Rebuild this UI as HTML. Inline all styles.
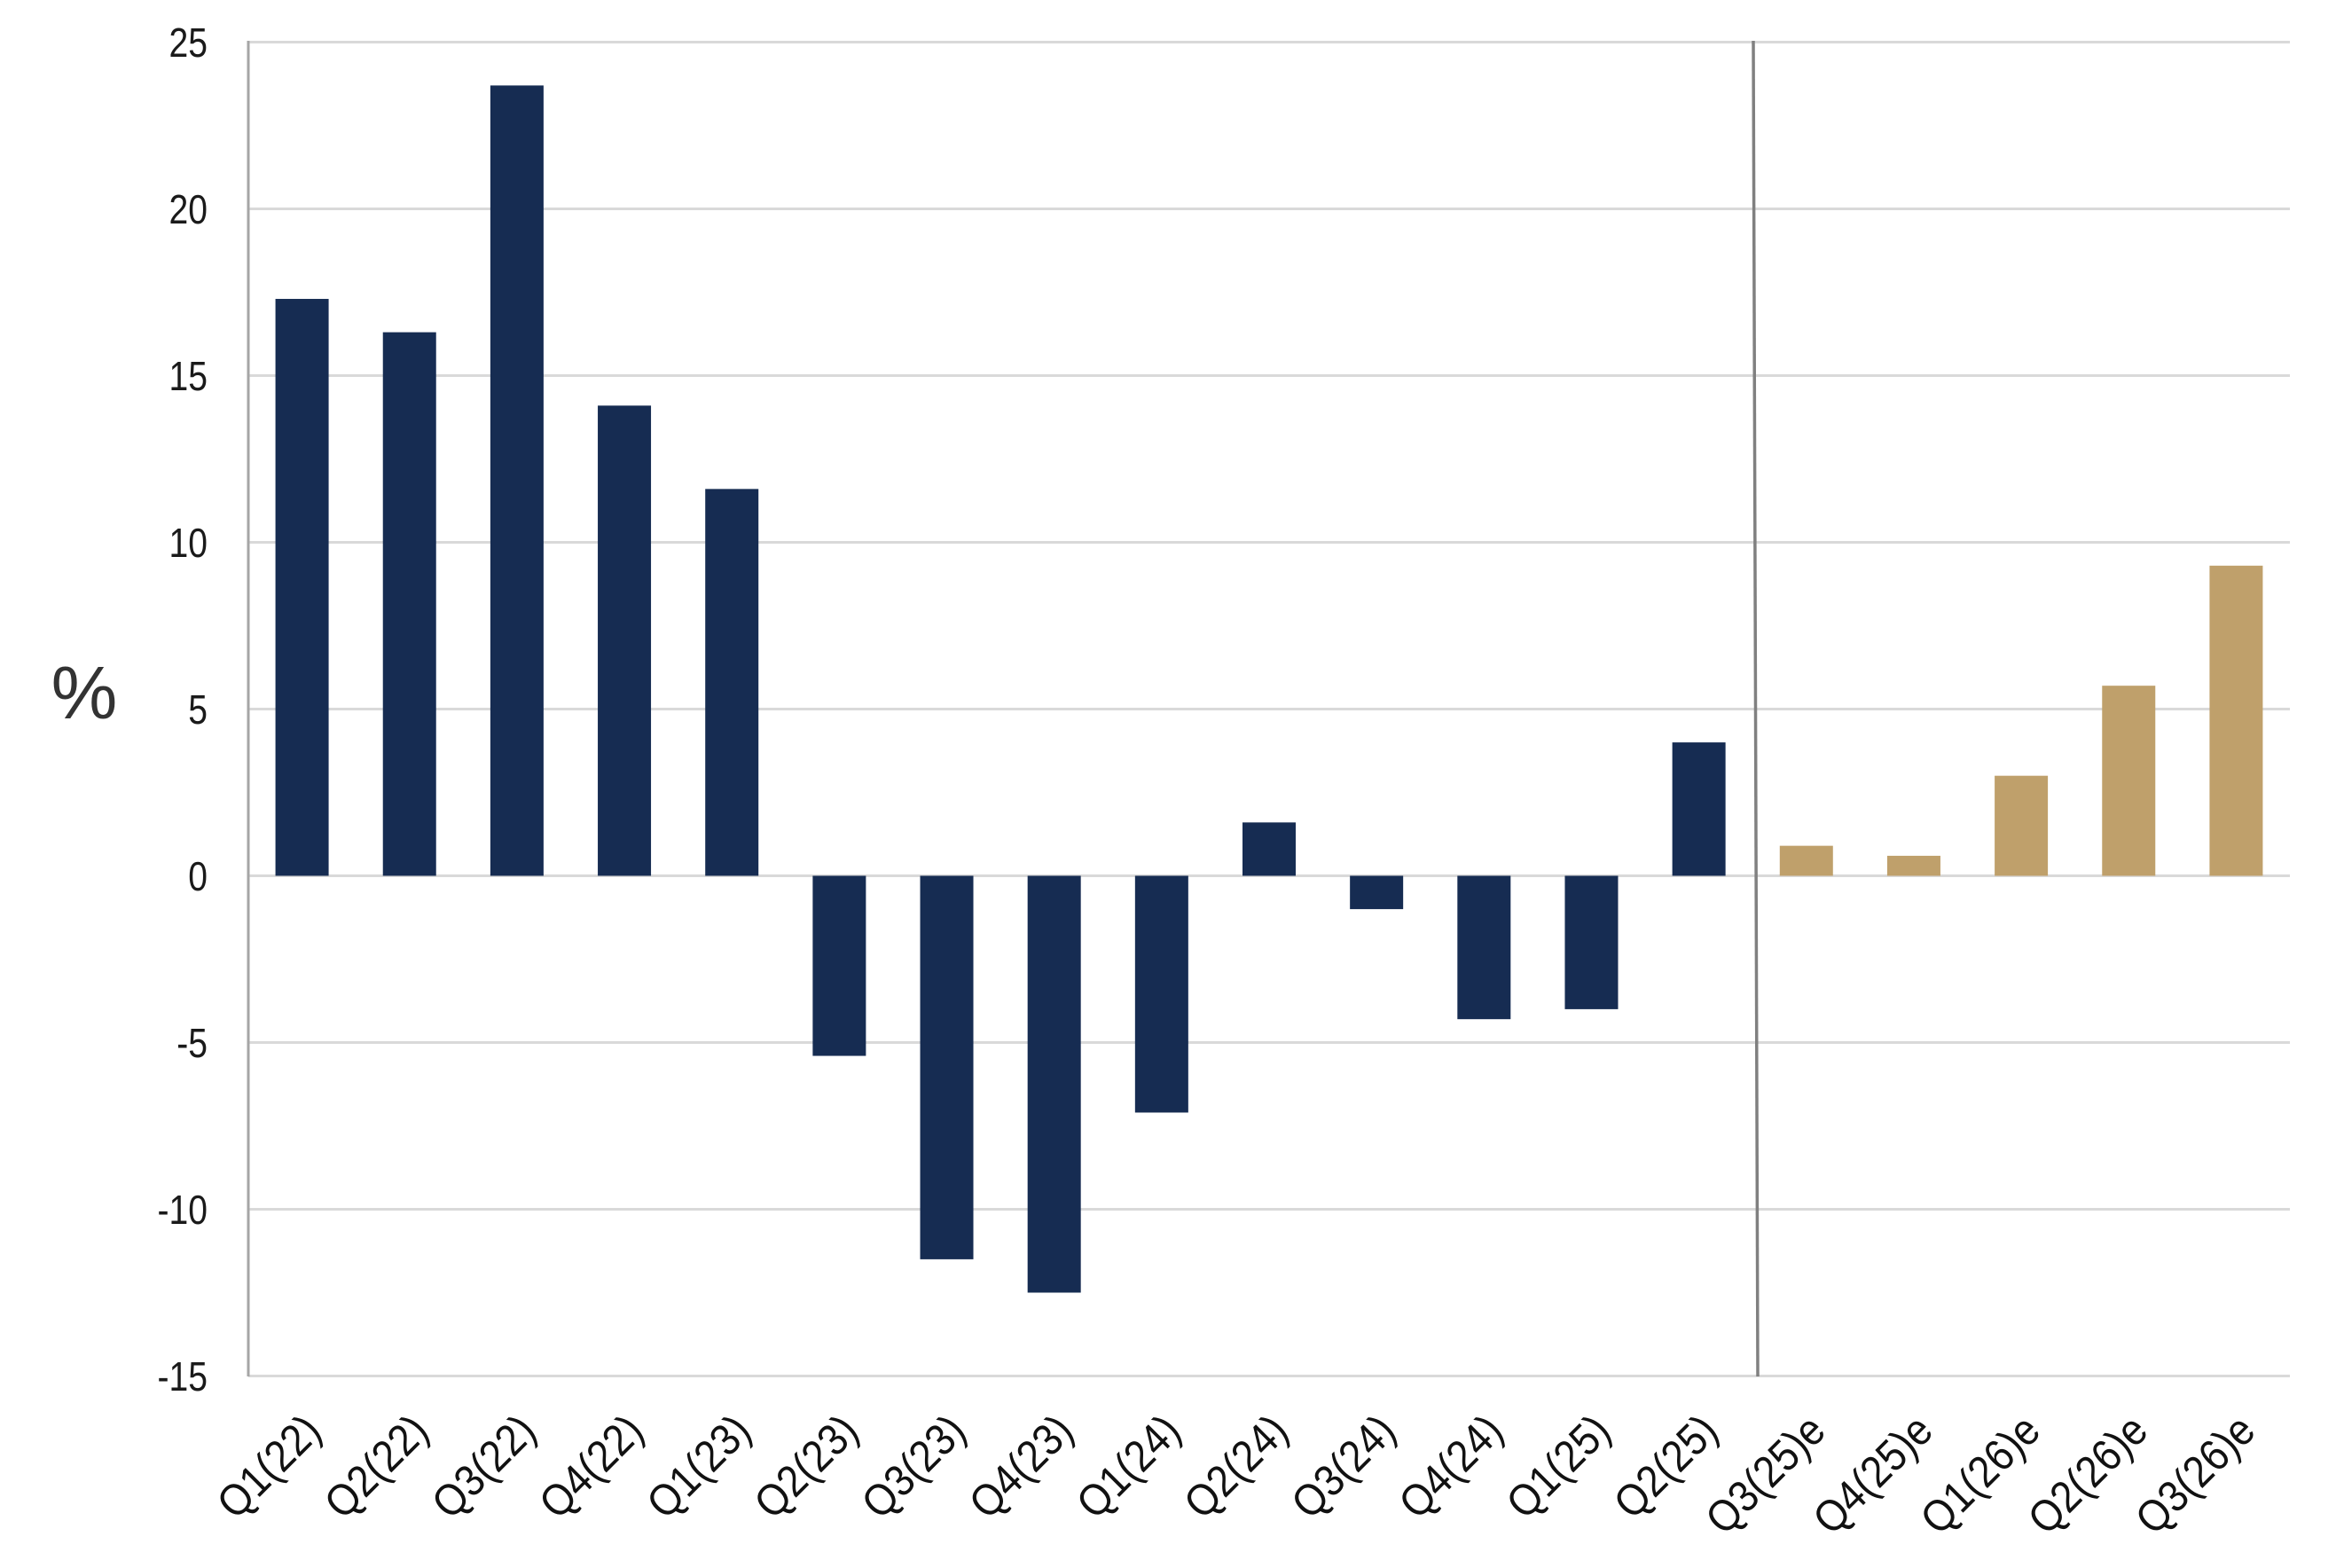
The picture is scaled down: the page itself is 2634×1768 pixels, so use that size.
<!DOCTYPE html>
<html><head><meta charset="utf-8"><style>html,body{margin:0;padding:0;background:#fff}svg{display:block}</style></head>
<body>
<svg width="2634" height="1768" viewBox="0 0 2634 1768" xmlns="http://www.w3.org/2000/svg" font-family="'Liberation Sans', sans-serif">
<rect width="2634" height="1768" fill="#fff"/>
<g stroke="#d9d9d9" stroke-width="3">
<line x1="280" y1="47.5" x2="2582" y2="47.5"/>
<line x1="280" y1="235.5" x2="2582" y2="235.5"/>
<line x1="280" y1="423.5" x2="2582" y2="423.5"/>
<line x1="280" y1="611.5" x2="2582" y2="611.5"/>
<line x1="280" y1="799.5" x2="2582" y2="799.5"/>
<line x1="280" y1="987.5" x2="2582" y2="987.5"/>
<line x1="280" y1="1175.5" x2="2582" y2="1175.5"/>
<line x1="280" y1="1363.5" x2="2582" y2="1363.5"/>
<line x1="280" y1="1551.5" x2="2582" y2="1551.5"/>
</g>
<line x1="280" y1="46" x2="280" y2="1552" stroke="#a6a6a6" stroke-width="3"/>
<g font-size="46" fill="#1a1a1a" text-anchor="end" transform="translate(234,0) scale(0.85,1)">
<text x="0" y="64">25</text>
<text x="0" y="252">20</text>
<text x="0" y="440">15</text>
<text x="0" y="628">10</text>
<text x="0" y="816">5</text>
<text x="0" y="1004">0</text>
<text x="0" y="1192">-5</text>
<text x="0" y="1380">-10</text>
<text x="0" y="1568">-15</text>
</g>
<text x="95" y="810" font-size="84" fill="#333" text-anchor="middle">%</text>
<g id="bars"></g>
<line x1="1977" y1="46" x2="1982" y2="1552" stroke="#808080" stroke-width="3.5"/>
<g id="labels" font-size="50" fill="#111"></g>
<script>
var vals=[17.3,16.3,23.7,14.1,11.6,-5.4,-11.5,-12.5,-7.1,1.6,-1.0,-4.3,-4.0,4.0,0.9,0.6,3.0,5.7,9.3];
var labs=["Q1(22)","Q2(22)","Q3(22)","Q4(22)","Q1(23)","Q2(23)","Q3(23)","Q4(23)","Q1(24)","Q2(24)","Q3(24)","Q4(24)","Q1(25)","Q2(25)","Q3(25)e","Q4(25)e","Q1(26)e","Q2(26)e","Q3(26)e"];
var ns="http://www.w3.org/2000/svg",b=document.getElementById("bars"),l=document.getElementById("labels");
var step=2302/19,z=987.5,u=37.6,w=60;
for(var i=0;i<19;i++){var c=280+step*(i+0.5),v=vals[i];
var r=document.createElementNS(ns,"rect");r.setAttribute("x",c-w/2);
var y=v>=0?z-v*u:z;r.setAttribute("y",y);r.setAttribute("width",w);r.setAttribute("height",Math.abs(v)*u);
r.setAttribute("fill",i<14?"#162c52":"#bfa06b");b.appendChild(r);
var t=document.createElementNS(ns,"text");t.setAttribute("text-anchor","end");
t.setAttribute("transform","translate("+(c+24)+",1616) rotate(-45) scale(0.9,1)");t.textContent=labs[i];l.appendChild(t);}
</script>
</svg>
</body></html>
